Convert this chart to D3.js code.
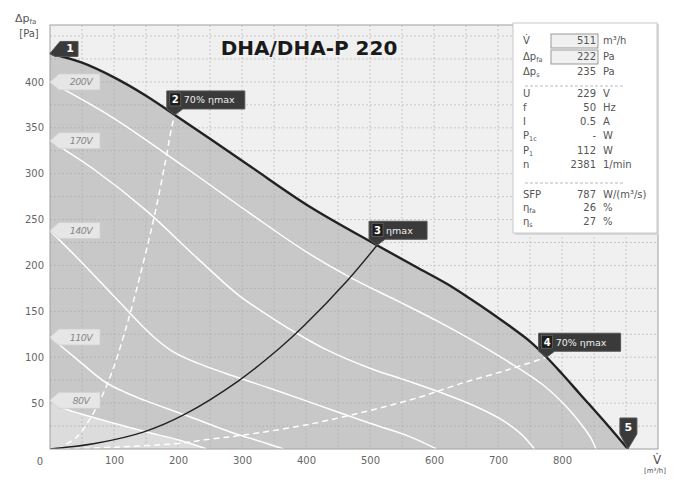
<!DOCTYPE html>
<html><head><meta charset="utf-8">
<script src="https://cdn.jsdelivr.net/npm/d3@7"></script>
<style>body{margin:0;background:#fff}svg{display:block}</style>
</head><body>
<svg id="c" width="674" height="481"></svg>
<script>
// ---------- data ----------
const title = "DHA/DHA-P 220";
const xTicks = [100,200,300,400,500,600,700,800];
const yTicks = [50,100,150,200,250,300,350,400];
const xGrid = d3.range(50, 950, 50);
const yGrid = d3.range(25, 462, 25);

const maxCurve = [[0,431],[50,421],[100,405],[150,385],[195,364],[250,338],[315,307],[406,264],[511,222],[573,198],[620,180],[656,164],[690,148],[724,131],[752,116],[776,100],[800,82],[828,60],[870,27],[903,0]];
const v200 = [[0,400],[96,362],[211,307],[312,257],[400,215],[469,187],[547,160],[609,138],[656,120],[714,96],[770,70],[807,46],[830,27],[845,12],[853,0]];
const v170 = [[0,336],[70,304],[150,260],[230,208],[294,168],[340,146],[381,128],[427,110],[500,88],[560,74],[609,62],[660,48],[703,33],[735,17],[757,0]];
const v140 = [[0,238],[50,203],[106,162],[140,137],[164,121],[190,107],[222,96],[284,80],[340,67],[398,53],[500,28],[560,14],[604,0]];
const v110 = [[0,122],[40,99],[86,73],[120,61],[148,53],[211,37],[284,18],[330,8],[365,0]];
const v80  = [[0,53],[23,44],[60,36],[100,28],[148,19],[200,10],[245,0]];
const etaMax = [[0,0],[70,6],[148,19],[211,38],[294,74],[359,110],[398,135],[464,183],[511,222]];
const eta70low = [[12,0],[40,12],[60,30],[81,57],[100,90],[115,123],[130,160],[150,215],[165,260],[180,312],[190,350],[195,364]];
const eta70high = [[22,0],[100,2],[200,6],[242,10],[300,15],[398,26],[500,42],[580,57],[640,71],[714,86],[776,100]];

const voltLabels = ["200V","170V","140V","110V","80V"];
const voltCurves = [v200, v170, v140, v110, v80];

const markerNums = ["1","2","3","4","5"];
const markerTexts = ["","70% ηmax","ηmax","70% ηmax",""];
const markerPts = [[0,431],[195,364],[511,222],[776,100],[903,0]];

const infoLabels = [["V̇",""],["Δp","fa"],["Δp","s"],["U",""],["f",""],["I",""],["P","1c"],["P","1"],["n",""],["SFP",""],["η","fa"],["η","s"]];
const infoValues = ["511","222","235","229","50","0.5","-","112","2381","787","26","27"];
const infoUnits = ["m³/h","Pa","Pa","V","Hz","A","W","W","1/min","W/(m³/s)","%","%"];

// ---------- layout ----------
const svg = d3.select("#c");
const L=50, R=658, T=25, B=449;
const x = d3.scaleLinear().domain([0,950]).range([L,R]);
const y = d3.scaleLinear().domain([0,462]).range([B,T]);
const font = "'DejaVu Sans', Verdana, sans-serif";

svg.append("defs").append("clipPath").attr("id","clip")
  .append("rect").attr("x",L).attr("y",T).attr("width",R-L).attr("height",B-T);

svg.append("rect").attr("x",L).attr("y",T).attr("width",R-L).attr("height",B-T).attr("fill","#f0f0f0");
const g = svg.append("g").attr("clip-path","url(#clip)");

const curve = d3.curveCatmullRom.alpha(0.5);
const area = d3.area().x(d=>x(d[0])).y0(y(0)).y1(d=>y(d[1])).curve(curve);
const line = d3.line().x(d=>x(d[0])).y(d=>y(d[1])).curve(curve);

g.append("path").attr("d",area(maxCurve)).attr("fill","#c8c8c8");
g.append("path").attr("d",area(v80)).attr("fill","#dcdcdc");

// grid
g.selectAll(".gx").data(xGrid).join("line").attr("x1",d=>x(d)).attr("x2",d=>x(d)).attr("y1",T).attr("y2",B)
  .attr("stroke","#a8a8a8").attr("stroke-opacity",0.55).attr("stroke-dasharray","2,2");
g.selectAll(".gy").data(yGrid).join("line").attr("y1",d=>y(d)).attr("y2",d=>y(d)).attr("x1",L).attr("x2",R)
  .attr("stroke","#a8a8a8").attr("stroke-opacity",0.55).attr("stroke-dasharray","2,2");

// curves
voltCurves.forEach(c=>{
  g.append("path").attr("d",line(c)).attr("fill","none").attr("stroke","#fff").attr("stroke-width",1.5);
});
[eta70low, eta70high].forEach(c=>{
  g.append("path").attr("d",line(c)).attr("fill","none").attr("stroke","#fff").attr("stroke-width",1.5).attr("stroke-dasharray","6,4");
});
g.append("path").attr("d",line(etaMax)).attr("fill","none").attr("stroke","#222").attr("stroke-width",1.4);
g.append("path").attr("d",line(maxCurve)).attr("fill","none").attr("stroke","#222").attr("stroke-width",2.4);

// border
svg.append("rect").attr("x",L).attr("y",T).attr("width",R-L).attr("height",B-T).attr("fill","none").attr("stroke","#a0a0a0");

// axes
const xa = svg.append("g").attr("transform",`translate(0,${B})`)
  .call(d3.axisBottom(x).tickValues(xTicks).tickSize(0).tickPadding(8));
const ya = svg.append("g").attr("transform",`translate(${L},0)`)
  .call(d3.axisLeft(y).tickValues(yTicks).tickSize(0).tickPadding(6));
[xa,ya].forEach(a=>{ a.select(".domain").remove(); a.selectAll("text").attr("fill","#666").style("font-family",font).style("font-size","10px"); });
svg.append("text").attr("x",40).attr("y",465).attr("text-anchor","middle").attr("fill","#666").style("font-family",font).style("font-size","10px").text("0");

// axis titles
const yt = svg.append("text").attr("x",15).attr("y",22).attr("fill","#555").style("font-family",font).style("font-size","11px");
yt.append("tspan").text("Δp");
yt.append("tspan").attr("dy",2).style("font-size","7px").text("fa");
svg.append("text").attr("x",29).attr("y",37).attr("text-anchor","middle").attr("fill","#555").style("font-family",font).style("font-size","10px").text("[Pa]");
svg.append("text").attr("x",657).attr("y",464).attr("text-anchor","middle").attr("fill","#555").style("font-family",font).style("font-size","12px").text("V̇");
svg.append("text").attr("x",655).attr("y",473).attr("text-anchor","middle").attr("fill","#555").style("font-family",font).style("font-size","7px").text("[m³/h]");

// title
svg.append("text").attr("x",309).attr("y",55).attr("text-anchor","middle").attr("fill","#1a1a1a")
  .style("font-family",font).style("font-weight","bold").style("font-size","20px").text(title);

// voltage tags
voltCurves.forEach((c,i)=>{
  const tx = x(c[0][0]), ty = y(c[0][1]);
  const gg = svg.append("g");
  gg.append("path").attr("d",`M${tx},${ty} L${tx+9},${ty-8} H${tx+50} V${ty+8} H${tx+9} Z`)
    .attr("fill","#e6e6e6").attr("stroke","#d0d0d0").attr("stroke-width",0.8);
  gg.append("text").attr("x",tx+31).attr("y",ty+3.5).attr("text-anchor","middle").attr("fill","#888")
    .style("font-family",font).style("font-size","9.5px").style("font-style","italic").style("letter-spacing","-0.5px").text(voltLabels[i]);
});

// markers
function tagText(gg, num, txt, bx, by){
  gg.append("rect").attr("x",bx).attr("y",by-7).attr("width",11).attr("height",13).attr("fill","#1e1e1e").attr("stroke","#777").attr("stroke-width",0.6);
  gg.append("text").attr("x",bx+5.5).attr("y",by+3.5).attr("text-anchor","middle").attr("fill","#fff")
    .style("font-family",font).style("font-weight","bold").style("font-size","10px").text(num);
  if(txt) gg.append("text").attr("x",bx+14).attr("y",by+3.5).attr("fill","#eee")
    .style("font-family",font).style("font-size","9.5px").text(txt);
}
markerPts.forEach((p,i)=>{
  const tx = x(p[0]), ty = y(p[1]);
  const gg = svg.append("g");
  const style = s=>s.attr("fill","#3a3a3a").attr("stroke","#555").attr("stroke-width",1);
  if(i===0){
    style(gg.append("path").attr("d",`M${tx},${ty} L${tx+10},${ty-12} H${tx+28} V${ty+3} H${tx+5} Z`));
    gg.append("text").attr("x",tx+20).attr("y",ty-1).attr("text-anchor","middle").attr("fill","#fff")
      .style("font-family",font).style("font-weight","bold").style("font-size","11px").text(markerNums[i]);
  } else if(i===4){
    style(gg.append("path").attr("d",`M${tx-8},${ty-31} H${tx+9} V${ty-15} L${tx},${ty} L${tx-8},${ty-15} Z`));
    gg.append("text").attr("x",tx+0.5).attr("y",ty-18).attr("text-anchor","middle").attr("fill","#fff")
      .style("font-family",font).style("font-weight","bold").style("font-size","11px").text(markerNums[i]);
  } else {
    const w = [0,78,58,82][i];
    const x0 = tx-8, y1 = ty-6, y0 = y1-18;
    style(gg.append("path").attr("d",`M${x0},${y0} H${x0+w} V${y1} H${tx+8} L${tx},${ty} L${x0},${y1} Z`));
    tagText(gg, markerNums[i], markerTexts[i], x0+3, (y0+y1)/2);
  }
});

// info box
const bx0=513, by0=23, bw=144, bh=210;
svg.append("rect").attr("x",bx0+2).attr("y",by0+2).attr("width",bw).attr("height",bh).attr("fill","#d8d8d8");
svg.append("rect").attr("x",bx0).attr("y",by0).attr("width",bw).attr("height",bh).attr("fill","#fff").attr("stroke","#c8c8c8");
const rowY = [44,60,75,97,111,125,139,154,168,198,211,225];
[86,183].forEach(sy=>svg.append("line").attr("x1",bx0+12).attr("x2",bx0+112).attr("y1",sy).attr("y2",sy)
  .attr("stroke","#bbb").attr("stroke-dasharray","3,2"));
infoLabels.forEach((lab,i)=>{
  const ry = rowY[i];
  if(i<2) svg.append("rect").attr("x",551).attr("y",ry-10).attr("width",47).attr("height",14).attr("fill","#f0f0f0").attr("stroke","#999");
  const t = svg.append("text").attr("x",523).attr("y",ry).attr("fill","#555").style("font-family",font).style("font-size","10px");
  t.append("tspan").text(lab[0]);
  if(lab[1]) t.append("tspan").attr("dy",2).style("font-size","6.5px").text(lab[1]);
  svg.append("text").attr("x",596).attr("y",ry).attr("text-anchor","end").attr("fill","#555").style("font-family",font).style("font-size","10px").text(infoValues[i]);
  svg.append("text").attr("x",603).attr("y",ry).attr("fill","#555").style("font-family",font).style("font-size","10px").text(infoUnits[i]);
});
</script>
</body></html>
